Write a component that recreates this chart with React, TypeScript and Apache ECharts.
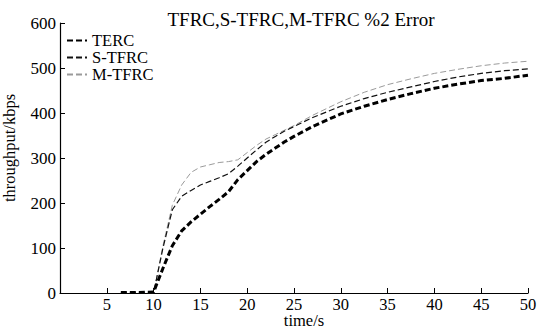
import React, { useEffect, useRef } from "react";
import * as echarts from "echarts";

const times = [6.5, 8, 10, 11, 12, 13, 14, 15, 16, 17, 18, 19, 20, 21, 22, 23, 24, 25, 27, 30, 32.5, 35, 37.5, 40, 42.5, 45, 47.5, 50];
const terc = [1, 1, 2, 55, 105, 138, 158, 175, 192, 208, 225, 252, 272, 292, 308, 322, 336, 348, 370, 398, 415, 430, 443, 455, 464, 472, 477, 484];
const sTfrc = [0, 0, 0, 100, 185, 215, 228, 240, 248, 256, 265, 282, 300, 318, 335, 348, 360, 370, 390, 415, 432, 446, 458, 470, 480, 488, 494, 498];
const mTfrc = [0, 0, 0, 105, 195, 240, 268, 280, 285, 290, 292, 296, 312, 328, 342, 352, 362, 372, 395, 425, 446, 463, 476, 488, 497, 505, 511, 515];
const seriesNames = ["TERC", "S-TFRC", "M-TFRC"];
const xTicks = [5, 10, 15, 20, 25, 30, 35, 40, 45, 50];
const yTicks = [0, 100, 200, 300, 400, 500, 600];

const FONT = "Liberation Serif";

export default function App() {
  const ref = useRef<HTMLDivElement>(null);
  useEffect(() => {
    if (!ref.current) return;
    const chart = echarts.init(ref.current, undefined, { renderer: "svg" });
    const pair = (arr: number[]) => times.map((t, i) => [t, arr[i]]);
    const styles = [
      { color: "#000", width: 3, type: [6, 3] as any },
      { color: "#111", width: 1.2, type: [6, 3] as any },
      { color: "#9a9a9a", width: 1, type: [6, 3] as any },
    ];
    const data = [terc, sTfrc, mTfrc];
    chart.setOption({
      animation: false,
      backgroundColor: "#fff",
      title: {
        text: "TFRC,S-TFRC,M-TFRC %2 Error",
        left: 296,
        textAlign: "center",
        top: 5,
        textStyle: { fontFamily: FONT, fontSize: 19, fontWeight: "normal", color: "#000" },
      },
      legend: {
        orient: "vertical",
        left: 66,
        top: 32,
        padding: 0,
        itemWidth: 20,
        itemHeight: 10,
        itemGap: 0,
        itemStyle: { opacity: 0 },
        data: seriesNames,
        textStyle: { fontFamily: FONT, fontSize: 16.5, color: "#000", lineHeight: 16 },
      },
      grid: { left: 60, right: 12, top: 23, bottom: 38, containLabel: false, outerBoundsMode: "none" },
      xAxis: {
        type: "value",
        min: 0,
        max: 50,
        interval: 5,
        name: "time/s",
        nameLocation: "middle",
        nameGap: 19,
        nameMoveOverlap: false,
        nameTextStyle: { fontFamily: FONT, fontSize: 16.5, color: "#000", lineHeight: 16, padding: [0, 0, 0, 20] },
        axisLine: { lineStyle: { color: "#000", width: 1.2 } },
        axisTick: { inside: true, length: 5, lineStyle: { color: "#000" } },
        axisLabel: {
          fontFamily: FONT,
          fontSize: 16.5,
          lineHeight: 16,
          color: "#000",
          margin: 3,
          formatter: (v: number) => (xTicks.includes(v) ? String(v) : ""),
        },
        splitLine: { show: false },
      },
      yAxis: {
        type: "value",
        min: 0,
        max: 600,
        interval: 100,
        name: "throughput/kbps",
        nameLocation: "middle",
        nameGap: 42,
        nameMoveOverlap: false,
        nameTextStyle: { fontFamily: FONT, fontSize: 16.5, color: "#000", padding: [0, 0, 0, 20] },
        axisLine: { show: true, lineStyle: { color: "#000", width: 1.2 } },
        axisTick: { show: true, inside: true, length: 5, lineStyle: { color: "#000" } },
        axisLabel: {
          fontFamily: FONT,
          fontSize: 17,
          color: "#000",
          margin: 4,
          formatter: (v: number) => (yTicks.includes(v) ? String(v) : ""),
        },
        splitLine: { show: false },
      },
      series: seriesNames.map((name, i) => ({
        name,
        type: "line",
        data: pair(data[i]),
        symbol: "none",
        smooth: false,
        z: 10 - i,
        color: styles[i].color,
        lineStyle: styles[i],
      })),
    });
    return () => chart.dispose();
  }, []);
  return <div ref={ref} style={{ width: 540, height: 331, position: "absolute", left: 0, top: 0 }} />;
}
